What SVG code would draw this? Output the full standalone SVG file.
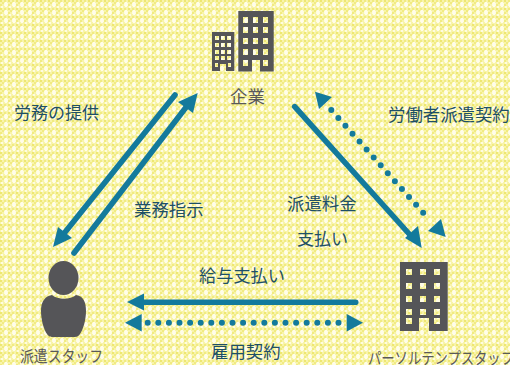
<svg xmlns="http://www.w3.org/2000/svg" width="510" height="365" viewBox="0 0 510 365">
<style>
text{font-family:"Noto Sans CJK JP","Liberation Sans",sans-serif;font-size:17.4px}
.t{fill:#1d4f66}
.g{fill:#595959}
.n{fill:#555558}
.s{stroke:#137a9c;stroke-width:5.6;stroke-linecap:round;fill:none}
.d{stroke:#137a9c;stroke-width:6;stroke-linecap:round;stroke-dasharray:0 10.6;fill:none}
.h{fill:#137a9c}
</style>
<defs>
<pattern id="bg" width="8" height="8" patternUnits="userSpaceOnUse">
<rect width="8" height="8" fill="#f8f4aa"/>
<rect x="0" y="0" width="2" height="2" fill="#eee772"/>
<rect x="2" y="2" width="2" height="2" fill="#f1eb82"/>
<rect x="4" y="0" width="2" height="2" fill="#f1eb82"/>
<rect x="0" y="4" width="2" height="2" fill="#f1eb82"/>
<rect x="4" y="3" width="4" height="3" fill="#fefce0"/>
<rect x="5" y="2" width="2" height="5" fill="#fffdea"/>
<rect x="1" y="6" width="2" height="2" fill="#fefce0"/>
</pattern>
</defs>
<rect id="background" width="510" height="365" fill="url(#bg)"/>
<g id="connectors">
<line class="s" x1="175" y1="95" x2="62" y2="236"/>
<polygon class="h" points="53,247 58,227 72,238"/>
<line class="s" x1="74" y1="253" x2="187" y2="106"/>
<polygon class="h" points="197.700,93 193,113 178,102"/>
<line class="s" x1="294.700" y1="106.700" x2="411" y2="236"/>
<polygon class="h" points="421.700,248 405,238 418,226"/>
<line class="d" x1="331.300" y1="110" x2="429" y2="219.300"/>
<polygon class="h" points="315,91.700 332,97 319,109"/>
<polygon class="h" points="445.700,237 428,231 441,219"/>
<line class="s" x1="355.700" y1="302.300" x2="142" y2="302.300"/>
<polygon class="h" points="127,302 144,293.500 144,310.500"/>
<line class="d" x1="147.700" y1="322.700" x2="339" y2="322.700"/>
<polygon class="h" points="125,322.700 141.700,314 141.700,331.500"/>
<polygon class="h" points="363,322.700 346.700,314 346.700,331.500"/>
</g>
<g id="company">
<path class="n" fill-rule="evenodd" d="M212,32H234.300V71H226V64H220V71H212ZM215,36v4h4v-4ZM221,36v4h4v-4ZM227,36v4h4v-4ZM215,43v4h4v-4ZM221,43v4h4v-4ZM227,43v4h4v-4ZM215,50v4h4v-4ZM221,50v4h4v-4ZM227,50v4h4v-4ZM215,56v4h4v-4ZM221,56v4h4v-4ZM227,56v4h4v-4ZM215,63v4h3v-4ZM228,63v4h3v-4Z"/>
<path class="n" fill-rule="evenodd" d="M238.300,11H273.700V71.600H260V60H252V71.600H238.300ZM243,17v6h5v-6ZM253,17v6h5v-6ZM263,17v6h5v-6ZM243,27v6h5v-6ZM253,27v6h5v-6ZM263,27v6h5v-6ZM243,38v6h5v-6ZM253,38v6h5v-6ZM263,38v6h5v-6ZM243,49v6h5v-6ZM253,49v6h5v-6ZM263,49v6h5v-6ZM243,60v6h5v-6ZM263,60v6h5v-6Z"/>
<text class="g" x="230" y="103">企業</text>
</g>
<g id="staff">
<ellipse class="n" cx="63.500" cy="278" rx="15" ry="17"/>
<path class="n" d="M52,295C58,300 70,300 76,295C84,296 86,303 86,311C86,320 83,330 80,334C78,337 76,337 73,337H54C51,337 49,337 47,334C44,330 41,320 41,311C41,303 44,296 52,295Z"/>
<text class="g" x="20" y="362" style="font-size:16px" textLength="83" lengthAdjust="spacingAndGlyphs">派遣スタッフ</text>
</g>
<g id="part">
<path class="n" fill-rule="evenodd" d="M400,262H447.700V331H429V318H419V331H400ZM406,269v6h6v-6ZM420,269v6h6v-6ZM434,269v6h6v-6ZM406,283v6h6v-6ZM420,283v6h6v-6ZM434,283v6h6v-6ZM406,296v6h6v-6ZM420,296v6h6v-6ZM434,296v6h6v-6ZM406,309v6h6v-6ZM420,309v6h6v-6ZM434,309v6h6v-6ZM406,318v6h6v-6ZM434,318v6h6v-6Z"/>
<text class="g" x="368" y="364" style="font-size:16px" textLength="146" lengthAdjust="spacingAndGlyphs">パーソルテンプスタッフ</text>
</g>
<g id="labels">
<text class="t" x="14" y="119" style="font-size:17px">労務の提供</text>
<text class="t" x="134" y="216">業務指示</text>
<text class="t" x="287" y="210">派遣料金</text>
<text class="t" x="297" y="245" style="font-size:17px">支払い</text>
<text class="t" x="388" y="121">労働者派遣契約</text>
<text class="t" x="199" y="282" style="font-size:17.200px">給与支払い</text>
<text class="t" x="211" y="358">雇用契約</text>
</g>
</svg>
